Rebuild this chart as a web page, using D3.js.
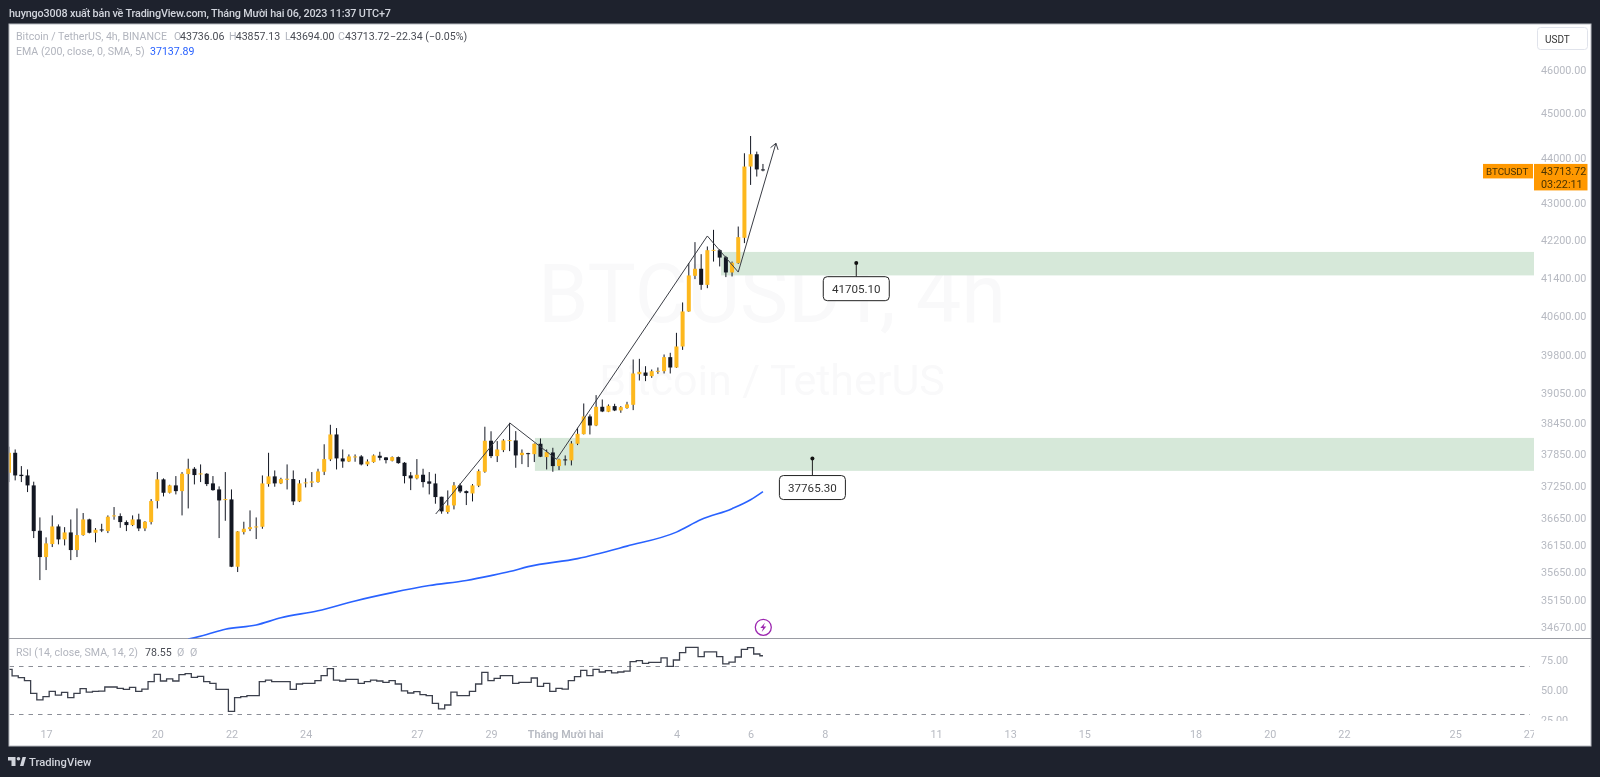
<!DOCTYPE html>
<html>
<head>
<meta charset="utf-8">
<script src="https://cdn.jsdelivr.net/npm/d3@7"></script>
<style>
  html, body { margin: 0; padding: 0; background: #1e222d; overflow: hidden; }
  svg { display: block; filter: blur(0.3px); }
  text { font-family: Roboto, sans-serif; }
  .axis text { font-size: 10.8px; fill: #b7bac2; }
  .axis path { display: none; }
</style>
</head>
<body>
<svg id="chart" width="1600" height="777"></svg>
<script>
// one entry per 4h bar
const opens = [
  37494,37876,37456,37443,37254,36406,35923,36161,36486,36247,
  36375,36051,36326,36616,36369,36430,36400,36672,36678,36567,
  36511,36616,36449,36567,36959,37368,37115,37254,37146,37469,
  37570,37469,37475,37292,37178,36984,36990,35747,36381,36437,
  36473,36480,37279,37425,37292,37368,37374,36952,37298,37305,
  37317,37513,37749,38230,37768,37710,37793,37806,37653,37698,
  37819,37787,37723,37793,37685,37443,37387,37456,37330,37292,
  37040,36754,36877,37254,37146,37102,37248,37513,38108,37812,
  37927,38108,38114,37831,37869,37850,38050,37793,37882,37621,
  37749,37730,38050,38236,38581,38405,38771,38673,38784,38699,
  38745,38810,39418,39451,39378,39471,39478,39760,39552,39976,
  40693,41437,41585,41247,41972,41979,41829,41507,41704,42244,
  43800,44074,43736.06];
const highs = [
  37993,37940,37621,37557,37324,36653,36284,36691,36523,36473,
  36616,36821,36735,36629,36455,36535,36691,36847,36729,36598,
  36691,36722,36585,36996,37507,37387,37266,37431,37507,37762,
  37602,37653,37488,37431,37235,37507,37178,36400,36573,36784,
  36653,37443,37876,37538,37399,37653,37538,37355,37387,37507,
  37570,38040,38418,38354,37940,37844,37844,37831,37749,37844,
  37895,37793,37806,37806,37698,37507,37755,37570,37507,37475,
  37040,37159,37317,37292,37159,37279,37557,38380,38292,38101,
  38140,38457,38295,37940,37876,38056,38152,37940,37972,37762,
  37825,38101,38360,38836,38620,39001,38915,38817,38830,38784,
  38869,39713,39726,39578,39512,39552,39814,39848,40254,40880,
  41704,42151,41894,42058,42415,42001,41858,41737,42486,44096,
  44484,44133,43857.13];
const lows = [
  37317,37349,37317,37128,36271,35506,35687,36106,36155,36136,
  35868,35923,36314,36357,36192,36381,36363,36610,36461,36400,
  36492,36400,36400,36523,36821,37046,37102,37084,36691,36821,
  37273,37317,37241,37153,36271,36591,35740,35651,36338,36400,
  36253,36443,37229,37229,37279,37178,36884,36940,37216,37222,
  37305,37450,37717,37557,37589,37698,37704,37634,37621,37685,
  37730,37672,37710,37666,37292,37165,37368,37216,37084,36909,
  36722,36722,36803,37109,36884,36952,37222,37494,37774,37698,
  37889,37908,37589,37659,37602,37698,37793,37557,37513,37544,
  37634,37634,38024,38230,38230,38392,38666,38666,38686,38653,
  38732,38705,39292,39279,39345,39425,39432,39432,39545,39907,
  40686,41367,41143,41177,41737,41634,41409,41423,41690,42130,
  43393,43578,43694.00];
const closes = [
  37876,37443,37431,37254,36400,35923,36173,36486,36247,36375,
  36051,36326,36616,36369,36424,36418,36666,36691,36567,36511,
  36616,36449,36573,36959,37368,37115,37254,37146,37475,37570,
  37450,37481,37279,37165,36971,36996,35747,36394,36443,36473,
  36486,37292,37425,37292,37374,37380,36952,37292,37311,37330,
  37519,37755,38230,37768,37710,37806,37806,37653,37710,37825,
  37780,37736,37793,37678,37431,37387,37456,37317,37286,37034,
  36766,36877,37254,37140,37109,37254,37525,38108,37812,37940,
  38114,38121,37825,37876,37856,38050,37800,37889,37621,37749,
  37736,38056,38243,38581,38405,38771,38679,38791,38699,38764,
  38817,39432,39465,39385,39478,39485,39760,39552,39976,40693,
  41444,41585,41247,41979,41986,41822,41507,41711,42258,43800,
  44074,43736,43713.72];
const rsiValues = [
  67.2,61.7,60.3,57.8,47.2,41.7,44.4,48.9,45.8,48,
  43.6,47.2,51.1,48.3,48.9,49,52.5,52.5,51.4,50.6,
  52.2,48.9,50.8,56.9,63.1,57.5,59.2,57.5,62.8,63.6,
  60.6,61.4,56.9,55.6,50.6,50.6,32.2,43.6,44.4,45.3,
  45.3,56.9,58.3,56.9,56.9,56.9,50.6,55,55.6,55.6,
  57.8,61.9,67.8,58.3,57.5,58.9,58.9,55.6,56.9,58.3,
  57.5,56.4,57.8,55,49.2,47.5,48.6,46.1,45.3,38.9,
  34.2,37.5,48.3,45.3,45.3,48.9,55,64.7,57.8,59.7,
  62,62,55.6,56.4,56.4,60,53,55.6,48.9,51.4,
  50.8,57.8,61.1,66.4,62,67.2,65,66.1,64.2,65,
  65.8,73.6,74.4,72.2,73,73,76.7,69.7,75,81.1,
  85.6,85.6,77.8,81.7,81.7,77.8,71.7,73.3,77.5,83.9,
  85.3,80,78.55];
const emaBars = [29,32,35,40,44,50,56,62,68,74,78,81,84,92,100,108,112,117,120,122];
const emaValues = [34457,34539,34630,34706,34832,34958,35132,35280,35407,35499,35586,35659,35749,35895,36123,36381,36613,36817,36984,37137.89];

const priceTicks = [46000,45000,44000,43000,42200,41400,40600,39800,39050,38450,37850,37250,36650,36150,35650,35150,34670];
const rsiTicks = [75,50,25];
const rsiBands = [70,30];
const timeBars = [6,24,36,48,66,78,90,108,120,132,150,162,174,192,204,216,234,246];
const timeLabels = ['17','20','22','24','27','29','Tháng Mười hai','4','6','8','11','13','15','18','20','22','25','27'];

// drawings
const zigzagBars = [69.05,81.07,88.6,113,118,124.1];
const zigzagPrices = [36717,38451,37752,42283,41515,44321];
const zoneBars = [115.2,85.1];
const zoneTops = [41942,38163];
const zoneBottoms = [41445,37530];
const calloutBars = [137.1,130];
const calloutPrices = [41705.10,37765.30];

const plotLeft = 9.5, plotRight = 1534, plotTop = 24.5, paneEnd = 638.5, plotBottom = 721;

const svg = d3.select('#chart');
const x = d3.scaleLinear().domain([0, 122]).range([9, 9 + 6.18 * 122]);
const y = d3.scaleLog().domain([46000, 34670]).range([70, 627]);
const yRsi = d3.scaleLinear().domain([75, 25]).range([660, 720]);

const defs = svg.append('defs');
defs.append('clipPath').attr('id', 'clipMain').append('rect')
  .attr('x', plotLeft).attr('y', plotTop).attr('width', plotRight - plotLeft).attr('height', paneEnd - plotTop);
defs.append('clipPath').attr('id', 'clipRsi').append('rect')
  .attr('x', plotLeft).attr('y', paneEnd).attr('width', plotRight - plotLeft).attr('height', plotBottom - paneEnd);
defs.append('clipPath').attr('id', 'clipRsiAxis').append('rect')
  .attr('x', plotRight).attr('y', paneEnd).attr('width', 60).attr('height', plotBottom - paneEnd);
defs.append('clipPath').attr('id', 'clipTime').append('rect')
  .attr('x', plotLeft).attr('y', plotBottom).attr('width', plotRight - plotLeft).attr('height', 25);

// frame
svg.append('rect').attr('width', 1600).attr('height', 777).attr('fill', '#1e222d');
svg.append('rect').attr('x', 9).attr('y', 24).attr('width', 1582).attr('height', 722)
  .attr('fill', '#fff').attr('stroke', '#b8bbc2').attr('stroke-width', 1);
svg.append('line').attr('x1', 9).attr('x2', 1591).attr('y1', paneEnd).attr('y2', paneEnd)
  .attr('stroke', '#9a9ca3').attr('stroke-width', 1);

svg.append('text').attr('x', 9).attr('y', 17).attr('fill', '#d1d4dc').attr('font-size', 10.8).attr('font-weight', 500)
  .attr('letter-spacing', -0.17)
  .text('huyngo3008 xuất bản về TradingView.com, Tháng Mười hai 06, 2023 11:37 UTC+7');

const main = svg.append('g').attr('clip-path', 'url(#clipMain)');

// watermark
main.append('text').attr('x', 772).attr('y', 322).attr('text-anchor', 'middle').attr('font-size', 81)
  .attr('fill', '#f9f9fa').text('BTCUSDT, 4h');
main.append('text').attr('x', 772).attr('y', 395).attr('text-anchor', 'middle').attr('font-size', 43)
  .attr('fill', '#f9f9fa').text('Bitcoin / TetherUS');

// supply/demand zones
main.selectAll('.zone').data(zoneBars).enter().append('rect')
  .attr('class', 'zone')
  .attr('x', d => x(d))
  .attr('y', (d, i) => y(zoneTops[i]))
  .attr('width', d => plotRight - x(d))
  .attr('height', (d, i) => y(zoneBottoms[i]) - y(zoneTops[i]))
  .attr('fill', '#d6e8d9');

// candles
const candles = main.selectAll('.candle').data(d3.range(opens.length)).enter().append('g').attr('class', 'candle');
candles.append('line')
  .attr('x1', i => x(i)).attr('x2', i => x(i))
  .attr('y1', i => y(highs[i])).attr('y2', i => y(lows[i]))
  .attr('stroke', '#131722').attr('stroke-width', 1);
candles.append('rect')
  .attr('x', i => x(i) - 2)
  .attr('width', 4)
  .attr('y', i => y(Math.max(opens[i], closes[i])))
  .attr('height', i => Math.max(1, Math.abs(y(opens[i]) - y(closes[i]))))
  .attr('fill', i => closes[i] >= opens[i] ? '#fdb81e' : '#131722');

// EMA
const emaLine = d3.line().x((d, i) => x(emaBars[i])).y(d => y(d)).curve(d3.curveMonotoneX);
main.append('path').datum(emaValues).attr('d', emaLine)
  .attr('fill', 'none').attr('stroke', '#2962ff').attr('stroke-width', 1.6);

// zigzag with open arrow head
const zigzagLine = d3.line().x((d, i) => x(zigzagBars[i])).y(d => y(d));
main.append('path').datum(zigzagPrices).attr('d', zigzagLine)
  .attr('fill', 'none').attr('stroke', '#3a3d45').attr('stroke-width', 1);
const tipX = x(zigzagBars[5]), tipY = y(zigzagPrices[5]);
const ang = Math.atan2(tipY - y(zigzagPrices[4]), tipX - x(zigzagBars[4]));
main.append('path')
  .attr('d', d3.line()([-0.6, 0.6].map(a => [tipX - 7 * Math.cos(ang + a), tipY - 7 * Math.sin(ang + a)]).flatMap((p, k) => k ? [[tipX, tipY], p] : [p])))
  .attr('fill', 'none').attr('stroke', '#3a3d45').attr('stroke-width', 1);

// price callouts
const boxW = 66, boxH = 24, stems = [13.6, 17];
const callouts = main.selectAll('.callout').data(calloutPrices).enter().append('g').attr('class', 'callout');
callouts.append('line')
  .attr('x1', (d, i) => x(calloutBars[i])).attr('x2', (d, i) => x(calloutBars[i]))
  .attr('y1', d => y(d)).attr('y2', (d, i) => y(d) + stems[i])
  .attr('stroke', '#222');
callouts.append('circle')
  .attr('cx', (d, i) => x(calloutBars[i])).attr('cy', d => y(d)).attr('r', 2).attr('fill', '#111');
callouts.append('rect')
  .attr('x', (d, i) => x(calloutBars[i]) - boxW / 2).attr('y', (d, i) => y(d) + stems[i])
  .attr('width', boxW).attr('height', boxH).attr('rx', 4)
  .attr('fill', '#fff').attr('stroke', '#222');
callouts.append('text')
  .attr('x', (d, i) => x(calloutBars[i])).attr('y', (d, i) => y(d) + stems[i] + 16)
  .attr('text-anchor', 'middle').attr('font-size', 11.6).attr('fill', '#333')
  .text(d => d3.format('.2f')(d));

// lightning badge
const badge = svg.append('g').attr('transform', 'translate(763.3,627.3)');
badge.append('circle').attr('r', 8).attr('fill', '#fff').attr('stroke', '#9c27b0').attr('stroke-width', 1.3);
badge.append('path').attr('d', 'M1.6,-4.6 L-3,0.8 L-0.2,0.8 L-1.6,4.6 L3,-0.8 L0.2,-0.8 Z').attr('fill', '#9c27b0');

// RSI pane
const rsiPane = svg.append('g').attr('clip-path', 'url(#clipRsi)');
rsiPane.selectAll('.band').data(rsiBands).enter().append('line')
  .attr('class', 'band')
  .attr('x1', plotLeft).attr('x2', 1530)
  .attr('y1', d => yRsi(d) + 0.5).attr('y2', d => yRsi(d) + 0.5)
  .attr('stroke', '#8b8e97').attr('stroke-dasharray', '4.5 5');
const rsiLine = d3.line().x((d, i) => x(i)).y(d => yRsi(d)).curve(d3.curveStep);
rsiPane.append('path').datum(rsiValues).attr('d', rsiLine)
  .attr('fill', 'none').attr('stroke', '#3c404c').attr('stroke-width', 1.3);

// axes
svg.append('g').attr('class', 'axis').attr('transform', 'translate(1536,0)')
  .call(d3.axisRight(y).tickValues(priceTicks).tickSize(0).tickPadding(5).tickFormat(d3.format('.2f')));
svg.append('g').attr('clip-path', 'url(#clipRsiAxis)')
  .append('g').attr('class', 'axis').attr('transform', 'translate(1536,0)')
  .call(d3.axisRight(yRsi).tickValues(rsiTicks).tickSize(0).tickPadding(5).tickFormat(d3.format('.2f')));
svg.append('g').attr('clip-path', 'url(#clipTime)')
  .append('g').attr('class', 'axis').attr('transform', `translate(0,${plotBottom})`)
  .call(d3.axisBottom(x).tickValues(timeBars).tickSize(0).tickPadding(9).tickFormat((d, i) => timeLabels[i]))
  .selectAll('text').attr('font-weight', (d, i) => timeLabels[i].length > 2 ? 600 : 400);

// legends
function legend(px, py, parts) {
  const t = svg.append('text').attr('x', px).attr('y', py).attr('font-size', 10.6);
  parts.forEach(p => t.append('tspan').attr('x', p[0]).attr('fill', p[2]).text(p[1]));
}
const grey = '#b2b5be', dark = '#4a4d55';
legend(16, 40, [[16, 'Bitcoin / TetherUS, 4h, BINANCE', grey], [174, 'O', grey], [180, '43736.06', dark],
  [229, 'H', grey], [235.7, '43857.13', dark], [285, 'L', grey], [290, '43694.00', dark],
  [338, 'C', grey], [345, '43713.72', dark], [390, '−22.34 (−0.05%)', dark]]);
legend(16, 55, [[16, 'EMA (200, close, 0, SMA, 5)', grey], [150, '37137.89', '#2962ff']]);
legend(16, 656, [[16, 'RSI (14, close, SMA, 14, 2)', grey], [145, '78.55', dark], [177, 'Ø', grey], [190, 'Ø', grey]]);

// USDT button
svg.append('rect').attr('x', 1537.5).attr('y', 27.5).attr('width', 50).attr('height', 22).attr('rx', 3)
  .attr('fill', '#fff').attr('stroke', '#e0e3eb');
svg.append('text').attr('x', 1545).attr('y', 42.5).attr('font-size', 10).attr('fill', '#333').text('USDT');

// last price tags
const lastY = y(closes[closes.length - 1]);
svg.append('rect').attr('x', 1483).attr('y', lastY - 6.5).attr('width', 50).attr('height', 14.5).attr('fill', '#ff9800');
svg.append('text').attr('x', 1486).attr('y', lastY + 5).attr('font-size', 9.8).attr('fill', '#4a3300').text('BTCUSDT');
svg.append('rect').attr('x', 1534).attr('y', lastY - 6.5).attr('width', 53.5).attr('height', 26.5).attr('fill', '#ff9800');
svg.append('text').attr('x', 1541).attr('y', lastY + 5).attr('font-size', 10.8).attr('fill', '#4a3300').text(d3.format('.2f')(closes[closes.length - 1]));
svg.append('text').attr('x', 1541).attr('y', lastY + 17.5).attr('font-size', 10.8).attr('fill', '#4a3300').text('03:22:11');

// footer logo
const logo = svg.append('g').attr('transform', 'translate(8,757)').attr('fill', '#d1d4dc');
logo.append('path').attr('d', 'M0,0 H7.5 V9 H3.5 V3.5 H0 Z');
logo.append('circle').attr('cx', 10.5).attr('cy', 1.8).attr('r', 1.8);
logo.append('path').attr('d', 'M12,9 L14.5,0 H18 L15.5,9 Z');
svg.append('text').attr('x', 29).attr('y', 766).attr('font-size', 11.2).attr('font-weight', 500).attr('fill', '#d1d4dc').text('TradingView');
</script>
</body>
</html>
